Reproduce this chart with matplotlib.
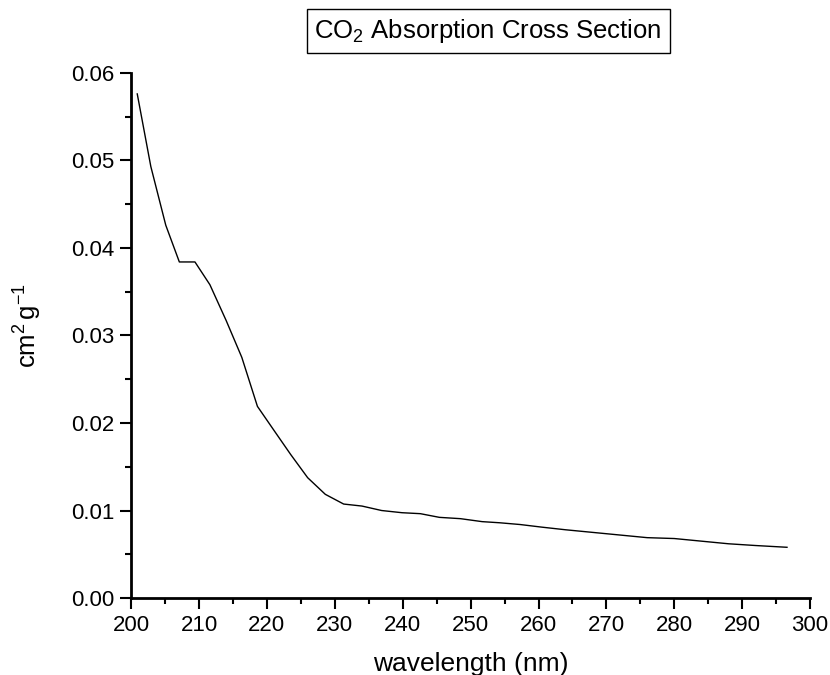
import matplotlib
matplotlib.use('Agg')
import matplotlib.pyplot as plt
from matplotlib.ticker import MultipleLocator

plt.rcParams['font.family'] = ['Liberation Sans', 'DejaVu Sans']
plt.rcParams['mathtext.fontset'] = 'custom'
plt.rcParams['mathtext.rm'] = 'Liberation Sans'
plt.rcParams['mathtext.it'] = 'Liberation Sans'

# wavelength (nm) and absorption cross section (cm^2 g^-1)
wavelength = [200.9, 202.9, 205.1, 207.1, 209.4, 211.6, 214.0, 216.3, 218.6,
              221.0, 223.5, 226.0, 228.6, 231.3, 234.0, 236.9, 239.9, 242.6,
              245.4, 248.5, 251.7, 254.3, 257.3, 260.5, 264.0, 268.0, 272.0,
              276.0, 280.0, 284.0, 288.0, 292.0, 296.6]
cross_section = [0.0576, 0.0493, 0.0426, 0.0384, 0.0384, 0.0358, 0.0317, 0.0275, 0.0219,
                 0.0192, 0.0164, 0.01375, 0.01185, 0.01074, 0.01051, 0.0100, 0.00975, 0.00964,
                 0.00922, 0.00907, 0.00873, 0.0086, 0.0084, 0.0081, 0.0078, 0.0075, 0.0072,
                 0.0069, 0.0068, 0.0065, 0.0062, 0.0060, 0.0058]

fig = plt.figure(figsize=(8.3, 6.75), dpi=100)
ax = fig.add_axes([0.158, 0.114, 0.818, 0.778])

ax.plot(wavelength, cross_section, color='black', linewidth=1.0)

ax.set_xlim(200, 300)
ax.set_ylim(0, 0.06)
ax.xaxis.set_major_locator(MultipleLocator(10))
ax.xaxis.set_minor_locator(MultipleLocator(5))
ax.yaxis.set_major_locator(MultipleLocator(0.01))
ax.yaxis.set_minor_locator(MultipleLocator(0.005))
ax.yaxis.set_major_formatter(plt.FormatStrFormatter('%.2f'))

for side in ['top', 'right']:
    ax.spines[side].set_visible(False)
for side in ['left', 'bottom']:
    ax.spines[side].set_linewidth(2)

ax.tick_params(which='major', direction='out', length=8, width=1.5, labelsize=16, pad=4)
ax.tick_params(which='minor', direction='out', length=4, width=1.5)

ax.set_xlabel('wavelength (nm)', fontsize=19)
ax.xaxis.set_label_coords(0.5, -0.102)
ax.set_ylabel(r'$\mathrm{cm^{2}\,g^{-1}}$', fontsize=18.5)
ax.yaxis.set_label_coords(-0.128, 0.52)

fig.text(0.588, 0.954, 'CO$_2$ Absorption Cross Section', fontsize=18.5,
         ha='center', va='center',
         bbox=dict(boxstyle='square,pad=0.3', facecolor='white', edgecolor='black', linewidth=1))

fig.savefig('out.png', dpi=100)
